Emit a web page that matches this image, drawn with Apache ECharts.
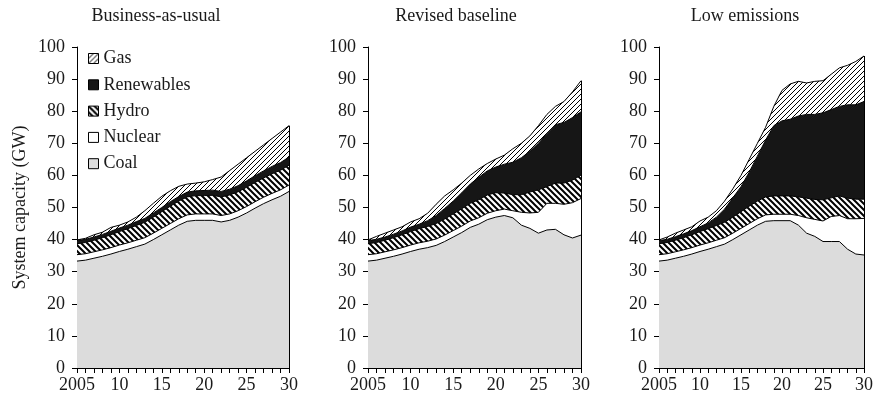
<!DOCTYPE html>
<html>
<head>
<meta charset="utf-8">
<script src="https://cdn.jsdelivr.net/npm/echarts@6/dist/echarts.min.js"></script>
<style>
  html, body { margin: 0; padding: 0; background: #fff; }
  #chart { width: 876px; height: 399px; }
</style>
</head>
<body>
<div id="chart"></div>
<script>
const years = ['2005','2006','2007','2008','2009','2010','2011','2012','2013','2014','2015','2016','2017',
  '2018','2019','2020','2021','2022','2023','2024','2025','2026','2027','2028','2029','2030']
const xTickLabels = { '2005': '2005', '2010': '10', '2015': '15', '2020': '20', '2025': '25', '2030': '30' }
const titles = ['Business-as-usual', 'Revised baseline', 'Low emissions']
const fuels = ['Coal', 'Nuclear', 'Hydro', 'Renewables', 'Gas']

// Business-as-usual (GW)
const bauCoal = [33.3,33.6,34.2,34.8,35.5,36.3,37.0,37.8,38.6,40.0,41.5,43.0,44.5,45.7,46.0,46.0,46.0,45.5,46.0,47.0,48.3,49.8,51.2,52.4,53.5,55.0]
const bauNuclear = [2,2,2,2,2,2,2,2,2,2,2,2,2,2,2,2,2,2,2,2,2,2,2,2,2,2]
const bauHydro = [3.4,3.5,3.6,3.8,4.0,4.2,4.4,4.6,4.8,5.0,5.2,5.4,5.5,5.6,5.7,5.7,5.8,5.8,5.9,5.9,6.0,6.0,6.0,6.1,6.1,6.2]
const bauRenew = [1.0,1.0,1.0,1.0,1.1,1.1,1.1,1.2,1.2,1.3,1.3,1.4,1.4,1.5,1.5,1.6,1.6,1.7,1.8,1.9,2.0,2.1,2.2,2.3,2.4,2.5]
const bauGas = [0.2,0.3,0.7,0.7,1.2,0.9,1.0,1.4,2.4,3.0,3.5,3.4,3.2,2.5,2.4,2.7,3.3,4.5,5.8,6.7,7.2,7.6,8.1,8.7,9.5,9.8]

// Revised baseline
const revCoal = [33.3,33.6,34.2,34.8,35.5,36.3,37.0,37.5,38.2,39.4,40.8,42.2,43.8,44.8,46.2,47.0,47.5,46.8,44.5,43.5,42.0,43.0,43.2,41.5,40.5,41.4]
const revNuclear = [2,2,2,2,2,2,2,2,2,2,2,2,2,2,2,2,2.0,2.2,4.0,4.8,6.5,8.3,8.1,9.5,11.0,11.4]
const revHydro = [3.4,3.5,3.6,3.8,4.0,4.2,4.4,4.6,4.8,5.0,5.2,5.4,5.5,5.6,5.7,5.6,5.0,5.0,5.5,6.5,7.0,5.2,6.3,6.6,7.0,7.3]
const revRenew = [1.0,1.0,1.0,1.1,1.2,1.4,1.4,1.8,2.5,3.3,4.0,5.0,6.0,7.0,7.5,8.0,9.0,10.1,11.5,12.7,14.5,16.5,18.2,18.9,19.5,19.7]
const revGas = [0.2,0.9,1.2,1.3,1.3,1.6,1.7,2.3,3.5,3.9,3.5,3.0,2.7,2.6,2.3,2.5,2.8,4.2,4.5,4.8,5.5,6.0,5.7,6.5,8.0,9.7]

// Low emissions
const lowCoal = [33.3,33.6,34.2,34.8,35.5,36.3,37.0,37.8,38.6,40.0,41.5,43.0,44.5,45.7,45.9,45.9,45.9,44.5,42.0,41.0,39.4,39.4,39.4,37.0,35.5,35.2]
const lowNuclear = [2,2,2,2,2,2,2,2,2,2,2,2,2,2,2,2,2,3.0,4.8,5.3,6.4,7.8,8.1,9.5,11.0,11.4]
const lowHydro = [3.4,3.5,3.6,3.8,4.0,4.2,4.4,4.6,4.8,5.0,5.2,5.4,5.5,5.6,5.7,5.7,5.7,5.8,6.1,6.2,6.6,5.8,6.1,6.4,6.1,6.0]
const lowRenew = [1.0,1.0,1.1,1.2,1.3,1.5,1.8,2.6,4.1,6.0,7.8,10.6,14.0,17.7,21.9,23.4,23.9,25.2,26.1,26.5,27.1,27.5,27.9,29.1,29.4,30.4]
const lowGas = [0.2,0.7,1.1,1.2,1.2,1.8,1.8,2.0,2.5,2.8,3.5,4.0,4.0,4.0,6.0,9.5,11.0,10.8,9.8,10.3,10.0,11.0,12.0,12.3,13.5,14.2]

const panels = [
  [bauCoal, bauNuclear, bauHydro, bauRenew, bauGas],
  [revCoal, revNuclear, revHydro, revRenew, revGas],
  [lowCoal, lowNuclear, lowHydro, lowRenew, lowGas]
]

const FONT = '"Liberation Serif", "DejaVu Serif", serif'
const INK = '#1a1a1a'

// 斜线填充
function hatch(size, lw, dir) {
  const c = document.createElement('canvas')
  c.width = size
  c.height = size
  const g = c.getContext('2d')
  g.fillStyle = '#fff'
  g.fillRect(0, 0, size, size)
  g.strokeStyle = '#000'
  g.lineWidth = lw
  g.beginPath()
  if (dir === '/') {
    g.moveTo(-1, size + 1); g.lineTo(size + 1, -1)
    g.moveTo(-size / 2 - 1, size / 2 + 1); g.lineTo(size / 2 + 1, -size / 2 - 1)
    g.moveTo(size / 2 - 1, size * 1.5 + 1); g.lineTo(size * 1.5 + 1, size / 2 - 1)
  } else {
    g.moveTo(-1, -1); g.lineTo(size + 1, size + 1)
    g.moveTo(-size / 2 - 1, size / 2 - 1); g.lineTo(size / 2 + 1, size * 1.5 + 1)
    g.moveTo(size / 2 - 1, -size / 2 - 1); g.lineTo(size * 1.5 + 1, size / 2 + 1)
  }
  g.stroke()
  return { image: c, repeat: 'repeat' }
}

const fills = {
  Coal: '#dcdcdc',
  Nuclear: '#ffffff',
  Hydro: hatch(6, 2, '\\'),
  Renewables: '#161616',
  Gas: hatch(5, 1, '/')
}

const grids = [
  { left: 77, top: 47, width: 212, height: 321 },
  { left: 368, top: 47, width: 213, height: 321 },
  { left: 659, top: 47, width: 211, height: 321 }
]
const titleX = [156, 456, 745]

const xAxes = grids.map((g, i) => ({
  type: 'category',
  gridIndex: i,
  data: years,
  boundaryGap: false,
  axisLine: { show: true, lineStyle: { color: '#000', width: 1 } },
  axisTick: { show: true, interval: 0, length: 5, lineStyle: { color: '#000' } },
  axisLabel: {
    interval: 0, margin: 8, color: INK, fontFamily: FONT, fontSize: 18,
    formatter: v => xTickLabels[v] || ''
  },
  splitLine: { show: false }
}))

const yAxes = grids.map((g, i) => ({
  type: 'value',
  gridIndex: i,
  min: 0, max: 100, interval: 10,
  axisLine: { show: true, lineStyle: { color: '#000', width: 1 } },
  axisTick: { show: true, length: 5, lineStyle: { color: '#000' } },
  axisLabel: { margin: 12, color: INK, fontFamily: FONT, fontSize: 18 },
  splitLine: { show: false }
}))

const series = []
panels.forEach((layers, p) => {
  const last = years.length - 1
  let total = 0
  layers.forEach(d => { total += d[last] })
  layers.forEach((d, k) => {
    const s = {
      name: fuels[k],
      type: 'line',
      stack: 'cap' + p,
      xAxisIndex: p,
      yAxisIndex: p,
      data: d,
      symbol: 'none',
      showSymbol: false,
      lineStyle: { color: '#000', width: 1 },
      itemStyle: { color: fills[fuels[k]] },
      areaStyle: { color: fills[fuels[k]], opacity: 1 },
      emphasis: { disabled: true }
    }
    if (k === layers.length - 1) {
      // 右侧竖边
      s.markLine = {
        silent: true,
        symbol: 'none',
        label: { show: false },
        lineStyle: { color: '#000', width: 1, type: 'solid' },
        data: [[{ coord: [years[last], 0] }, { coord: [years[last], total] }]]
      }
    }
    series.push(s)
  })
})

const graphic = titles.map((t, i) => ({
  type: 'text',
  x: titleX[i],
  y: 16,
  style: { text: t, font: '18px ' + FONT, fill: INK, align: 'center', verticalAlign: 'middle', textAlign: 'center', textVerticalAlign: 'middle' }
}))
graphic.push({
  type: 'text',
  x: 20,
  y: 207.5,
  rotation: Math.PI / 2,
  style: { text: 'System capacity (GW)', font: '18px ' + FONT, fill: INK, align: 'center', verticalAlign: 'middle', textAlign: 'center', textVerticalAlign: 'middle' }
})

const chart = echarts.init(document.getElementById('chart'), null, { renderer: 'canvas' })
chart.setOption({
  animation: false,
  backgroundColor: '#fff',
  grid: grids,
  xAxis: xAxes,
  yAxis: yAxes,
  legend: {
    orient: 'vertical',
    left: 88,
    top: 49.5,
    padding: 0,
    icon: 'rect',
    itemWidth: 10,
    itemHeight: 10,
    itemGap: 8.3,
    selectedMode: false,
    textStyle: { fontFamily: FONT, fontSize: 18, color: INK },
    data: ['Gas', 'Renewables', 'Hydro', 'Nuclear', 'Coal'].map(n => ({
      name: n,
      itemStyle: { color: fills[n], borderColor: '#000', borderWidth: 1 }
    }))
  },
  graphic: graphic,
  series: series
})
</script>
</body>
</html>
